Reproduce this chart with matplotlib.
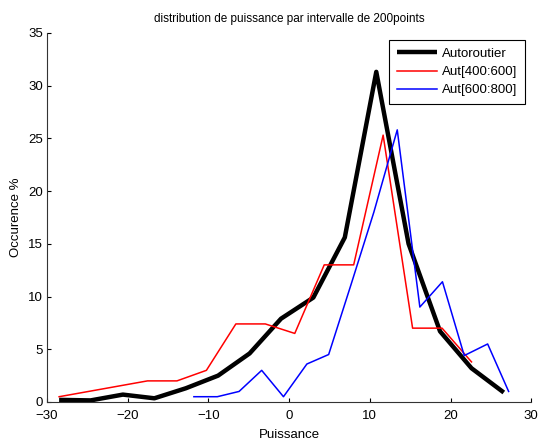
import matplotlib
matplotlib.use("Agg")
import matplotlib.pyplot as plt

plt.rcParams['font.family'] = ['Liberation Sans', 'DejaVu Sans']

# Bin centres and occurrence (%) for each series
x_auto = [-28.5, -24.6, -20.6, -16.7, -12.8, -8.8, -4.9, -1.0, 3.0, 6.9, 10.8, 14.8, 18.7, 22.6, 26.6]
y_auto = [0.2, 0.15, 0.7, 0.35, 1.3, 2.5, 4.6, 7.9, 9.9, 15.6, 31.3, 15.0, 6.7, 3.2, 0.9]

x_400 = [-28.5, -24.85, -21.2, -17.55, -13.9, -10.25, -6.6, -2.95, 0.7, 4.35, 8.0, 11.65, 15.3, 18.95, 22.6]
y_400 = [0.5, 1.0, 1.5, 2.0, 2.0, 3.0, 7.4, 7.4, 6.5, 13.0, 13.0, 25.3, 7.0, 7.0, 3.8]

x_600 = [-11.8, -8.9, -6.2, -3.4, -0.7, 2.2, 4.9, 7.7, 10.5, 13.4, 16.2, 19.0, 21.7, 24.6, 27.2]
y_600 = [0.5, 0.5, 1.0, 3.0, 0.5, 3.6, 4.5, 11.2, 18.0, 25.8, 9.0, 11.4, 4.4, 5.5, 1.0]

labels = ['Autoroutier', 'Aut[400:600]', 'Aut[600:800]']
xticks = [-30, -20, -10, 0, 10, 20, 30]
yticks = [0, 5, 10, 15, 20, 25, 30, 35]

fig = plt.figure(figsize=(5.38, 4.40), dpi=100)
ax = fig.add_axes([0.0874, 0.0864, 0.9, 0.839])

ax.plot(x_auto, y_auto, color='black', lw=3.2, label=labels[0], solid_capstyle='butt')
ax.plot(x_400, y_400, color='red', lw=1.1, label=labels[1])
ax.plot(x_600, y_600, color='blue', lw=1.1, label=labels[2])

ax.set_xlim(-30, 30)
ax.set_ylim(0, 35)
ax.set_xticks(xticks)
ax.set_yticks(yticks)
ax.tick_params(direction='in', length=3, width=0.8, labelsize=9.5)
ax.tick_params(axis='x', pad=6)
ax.tick_params(axis='y', pad=3)
for side in ('top', 'right'):
    ax.spines[side].set_visible(False)
for side in ('left', 'bottom'):
    ax.spines[side].set_linewidth(0.8)
    ax.spines[side].set_color('#333333')

ax.set_xlabel('Puissance', fontsize=9.5, labelpad=5)
ax.set_ylabel('Occurence %', fontsize=9.5, labelpad=4)
ax.set_title('distribution de puissance par intervalle de 200points', fontsize=8.5, pad=8)

leg = ax.legend(loc='upper right', bbox_to_anchor=(0.993, 0.988), fontsize=9.5,
                frameon=True, fancybox=False, edgecolor='black', framealpha=1,
                handlelength=3.0, borderpad=0.6, labelspacing=0.45, handletextpad=0.4,
                borderaxespad=0.2)
leg.get_frame().set_linewidth(0.8)

fig.savefig('out.png', dpi=100)
